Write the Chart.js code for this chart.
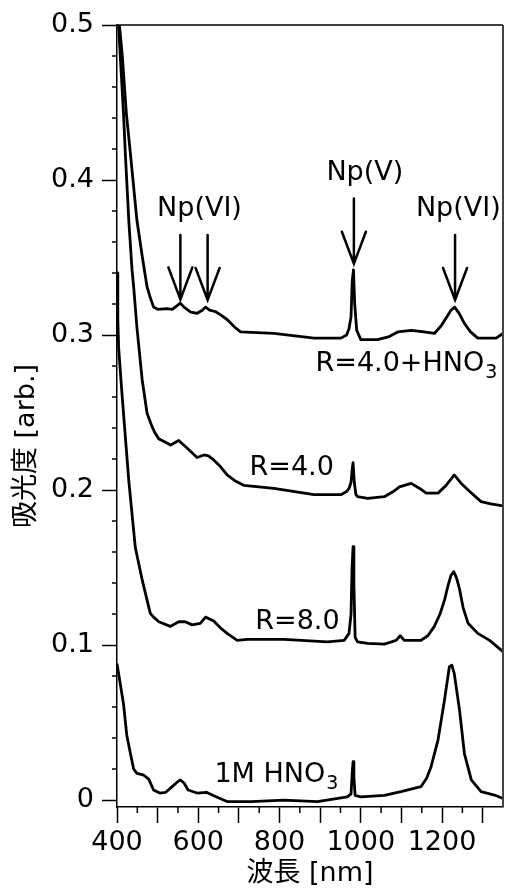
<!DOCTYPE html>
<html>
<head>
<meta charset="utf-8">
<script src="https://cdn.jsdelivr.net/npm/chart.js@4.4.0/dist/chart.umd.min.js"></script>
<style>
  html, body { margin: 0; padding: 0; background: #fff; }
  #wrap { width: 505px; height: 889px; }
</style>
</head>
<body>
<div id="wrap"><canvas id="spectra" width="505" height="889"></canvas></div>
<script>
// wavelength [nm] / absorbance pairs
const hno3R40X = [400, 406, 413, 423, 433, 449, 462, 474, 482, 490, 500, 523, 536, 548, 556, 565, 580, 597, 610, 618, 628, 643, 655, 671, 690, 704, 786, 885, 951, 965, 971, 976, 979, 982, 985, 990, 1000, 1041, 1070, 1091, 1124, 1156, 1181, 1198, 1210, 1222, 1231, 1242, 1255, 1270, 1288, 1333, 1350];
const hno3R40Y = [0.55, 0.50, 0.48, 0.443, 0.417, 0.374, 0.351, 0.331, 0.324, 0.318, 0.3166, 0.317, 0.3166, 0.319, 0.3205, 0.318, 0.315, 0.314, 0.316, 0.318, 0.316, 0.315, 0.313, 0.310, 0.305, 0.302, 0.301, 0.298, 0.298, 0.300, 0.304, 0.312, 0.335, 0.342, 0.320, 0.303, 0.297, 0.297, 0.299, 0.302, 0.303, 0.302, 0.301, 0.306, 0.311, 0.316, 0.318, 0.314, 0.3075, 0.302, 0.298, 0.298, 0.301];

const r40X = [400, 404, 408, 416, 420.5, 429, 437, 441, 449, 462, 474, 486, 494, 503, 511, 532, 552, 560, 573, 597, 614, 625, 638, 655, 671, 690, 712, 786, 885, 951, 965, 971, 976, 979, 981, 984, 988, 992, 1017, 1058, 1080, 1095, 1124, 1145, 1161, 1190, 1210, 1230, 1248, 1264, 1296, 1320, 1350];
const r40Y = [0.54, 0.50, 0.48, 0.443, 0.417, 0.374, 0.342, 0.331, 0.305, 0.271, 0.2495, 0.241, 0.2366, 0.233, 0.232, 0.229, 0.232, 0.230, 0.2269, 0.221, 0.2226, 0.222, 0.2194, 0.215, 0.2097, 0.206, 0.203, 0.201, 0.197, 0.197, 0.199, 0.201, 0.205, 0.214, 0.2176, 0.205, 0.197, 0.1957, 0.1946, 0.1957, 0.199, 0.202, 0.2043, 0.201, 0.198, 0.198, 0.203, 0.2097, 0.204, 0.200, 0.1925, 0.191, 0.1897];

const r80X = [400, 402, 404, 410, 416, 429, 445, 462, 474, 482, 490, 503, 531, 552, 568, 585, 605, 618, 638, 655, 671, 696, 721, 811, 918, 959, 971, 976, 978.5, 981, 983, 986, 992, 1017, 1058, 1087, 1097, 1107, 1148, 1165, 1181, 1195, 1206, 1214, 1222, 1229, 1236, 1243, 1252, 1264, 1288, 1317, 1350];
const r80Y = [0.340, 0.310, 0.292, 0.270, 0.2495, 0.206, 0.163, 0.142, 0.129, 0.1204, 0.118, 0.115, 0.112, 0.115, 0.115, 0.113, 0.114, 0.118, 0.1155, 0.111, 0.1075, 0.103, 0.1036, 0.1036, 0.102, 0.103, 0.1075, 0.12, 0.15, 0.1634, 0.14, 0.105, 0.102, 0.101, 0.1006, 0.103, 0.106, 0.103, 0.103, 0.106, 0.112, 0.12, 0.129, 0.1376, 0.145, 0.1473, 0.143, 0.136, 0.124, 0.114, 0.1075, 0.103, 0.0957];

const hno3X = [400, 408, 416, 424, 433, 441, 449, 466, 478, 490, 505, 520, 535, 548, 556, 565, 575, 597, 620, 645, 671, 730, 811, 893, 967, 976, 979, 981, 983, 986, 1000, 1058, 1099, 1148, 1162, 1173, 1190, 1206, 1218, 1224, 1230, 1243, 1255, 1272, 1296, 1329, 1350];
const hno3Y = [0.088, 0.075, 0.062, 0.042, 0.03, 0.02, 0.0172, 0.016, 0.0135, 0.0065, 0.0045, 0.005, 0.0085, 0.0115, 0.0129, 0.011, 0.0065, 0.0045, 0.005, 0.002, -0.001, -0.001, 0.0, -0.001, 0.002, 0.004, 0.018, 0.0247, 0.015, 0.003, 0.002, 0.003, 0.0054, 0.0086, 0.014, 0.0215, 0.0387, 0.0645, 0.086, 0.087, 0.0817, 0.058, 0.030, 0.013, 0.0054, 0.0032, 0.001];

const xTickLabels = [400, 600, 800, 1000, 1200];

// arrows marking the Np peaks (data units)
const arrowX = [556, 623, 983, 1232];
const arrowTop = [0.3645, 0.3645, 0.388, 0.3645];
const arrowTip = [0.323, 0.3226, 0.346, 0.3226];

// text notes: main part, subscript, position in data units
const noteText = ["Np(VI)", "Np(V)", "Np(VI)", "R=4.0+HNO", "R=4.0", "R=8.0", "1M HNO"];
const noteSub = ["", "", "", "3", "", "", "3"];
const noteX = [603, 1010, 1240, 1111, 830, 844, 791];
const noteY = [0.381, 0.4045, 0.381, 0.281, 0.214, 0.115, 0.016];

const FONT = "'DejaVu Sans', 'Noto Sans CJK JP', sans-serif";

function toPoints(xs, ys) {
  return xs.map((x, i) => ({ x: x, y: ys[i] }));
}

function spectrum(label, xs, ys) {
  return {
    label: label,
    data: toPoints(xs, ys),
    borderColor: "#000",
    borderWidth: 2.8,
    borderJoinStyle: "round",
    pointRadius: 0,
    tension: 0,
    fill: false,
  };
}

// minor ticks, top/right frame, arrows, notes and axis titles
const extras = {
  id: "extras",
  afterDraw(chart) {
    const { ctx, chartArea: a, scales } = chart;
    const x = scales.x;
    const y = scales.y;
    ctx.save();

    ctx.strokeStyle = "#000";
    ctx.lineWidth = 1.5;
    ctx.beginPath();
    ctx.moveTo(a.left, a.top);
    ctx.lineTo(a.right, a.top);
    ctx.stroke();
    ctx.strokeStyle = "#444";
    ctx.lineWidth = 2;
    ctx.beginPath();
    ctx.moveTo(a.right, a.top);
    ctx.lineTo(a.right, a.bottom);
    ctx.stroke();

    ctx.strokeStyle = "#000";
    ctx.lineWidth = 1.5;
    ctx.beginPath();
    for (let v = 450; v < 1350; v += 100) {
      const px = x.getPixelForValue(v);
      ctx.moveTo(px, a.bottom);
      ctx.lineTo(px, a.bottom + 6);
    }
    for (let k = 1; k < 25; k++) {
      if (k % 5 === 0) continue;
      const py = y.getPixelForValue(k * 0.02);
      ctx.moveTo(a.left - 5, py);
      ctx.lineTo(a.left, py);
    }
    ctx.stroke();

    ctx.lineWidth = 2.5;
    ctx.lineCap = "round";
    arrowX.forEach((v, i) => {
      const px = x.getPixelForValue(v);
      const top = y.getPixelForValue(arrowTop[i]);
      const tip = y.getPixelForValue(arrowTip[i]);
      ctx.beginPath();
      ctx.moveTo(px, top);
      ctx.lineTo(px, tip);
      ctx.moveTo(px - 12, tip - 32);
      ctx.lineTo(px, tip);
      ctx.lineTo(px + 12, tip - 32);
      ctx.stroke();
    });

    ctx.fillStyle = "#000";
    ctx.textBaseline = "middle";
    noteText.forEach((t, i) => {
      ctx.font = "27px " + FONT;
      const w = ctx.measureText(t).width;
      let ws = 0;
      if (noteSub[i]) {
        ctx.font = "19px " + FONT;
        ws = ctx.measureText(noteSub[i]).width;
      }
      const cx = x.getPixelForValue(noteX[i]);
      const cy = y.getPixelForValue(noteY[i]);
      const left = cx - (w + ws) / 2;
      ctx.textAlign = "left";
      ctx.font = "27px " + FONT;
      ctx.fillText(t, left, cy);
      if (noteSub[i]) {
        ctx.font = "19px " + FONT;
        ctx.fillText(noteSub[i], left + w + 1, cy + 9);
      }
    });

    ctx.font = "27px " + FONT;
    ctx.textAlign = "center";
    ctx.fillText("波長 [nm]", (a.left + a.right) / 2, 874);
    ctx.translate(27, 446);
    ctx.rotate(-Math.PI / 2);
    ctx.fillText("吸光度 [arb.]", 0, 0);
    ctx.restore();
  },
};

new Chart(document.getElementById("spectra"), {
  type: "line",
  data: {
    datasets: [
      spectrum("R=4.0+HNO3", hno3R40X, hno3R40Y),
      spectrum("R=4.0", r40X, r40Y),
      spectrum("R=8.0", r80X, r80Y),
      spectrum("1M HNO3", hno3X, hno3Y),
    ],
  },
  options: {
    responsive: false,
    animation: false,
    devicePixelRatio: 1,
    layout: { padding: { top: 25, right: 2, left: 0, bottom: 0 } },
    plugins: {
      legend: { display: false },
      tooltip: { enabled: false },
    },
    scales: {
      x: {
        type: "linear",
        min: 400,
        max: 1350,
        afterFit: (s) => { s.height = 82; },
        ticks: {
          stepSize: 100,
          includeBounds: false,
          autoSkip: false,
          maxRotation: 0,
          padding: 4,
          color: "#000",
          font: { family: FONT, size: 27 },
          callback: (v) => (xTickLabels.includes(v) ? String(v) : ""),
        },
        grid: { drawOnChartArea: false, tickLength: 16, tickColor: "#000", tickWidth: 1.5 },
        border: { color: "#000", width: 1.5 },
      },
      y: {
        min: -0.0045,
        max: 0.5,
        afterFit: (s) => { s.width = 117; },
        ticks: {
          stepSize: 0.1,
          includeBounds: false,
          padding: 8,
          color: "#000",
          font: { family: FONT, size: 27 },
          callback: (v) => String(Number(v.toFixed(1))),
        },
        grid: { drawOnChartArea: false, tickLength: 15, tickColor: "#000", tickWidth: 1.5 },
        border: { color: "#000", width: 1.5 },
      },
    },
  },
  plugins: [extras],
});
</script>
</body>
</html>
